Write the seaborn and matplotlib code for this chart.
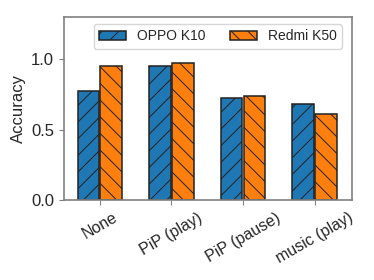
#!/usr/bin/env python3

import matplotlib
matplotlib.use('Agg')
import matplotlib.pyplot as plt
import pandas as pd
import seaborn as sns

categories = ['None', 'PiP (play)', 'PiP (pause)', 'music (play)']
devices = ['OPPO K10', 'Redmi K50']
oppo_acc = [0.775, 0.953, 0.723, 0.681]
redmi_acc = [0.953, 0.974, 0.740, 0.610]
yticks = [0.0, 0.5, 1.0]


def main():
    sns.set_style('ticks')
    plt.rcParams['font.family'] = ['Liberation Sans', 'DejaVu Sans']
    plt.rcParams['hatch.linewidth'] = 0.7

    data = pd.DataFrame({
        'scenario': categories * 2,
        'device': [devices[0]] * 4 + [devices[1]] * 4,
        'acc': oppo_acc + redmi_acc,
    })

    fig, ax = plt.subplots(figsize=(3.74, 2.8), dpi=100)
    sns.barplot(data=data, x='scenario', y='acc', hue='device',
                palette=['#1f77b4', '#ff7f0e'], saturation=1,
                width=0.64, gap=0.06,
                edgecolor='#222222', linewidth=1.1, ax=ax)

    hatches = ['//', '\\\\']
    for container, h in zip(ax.containers, hatches):
        for bar in container:
            bar.set_hatch(h)

    ax.set_ylim(0, 1.3)
    ax.set_xlim(-0.5, 3.52)
    ax.set_yticks(yticks)
    ax.set_yticklabels(['%.1f' % v for v in yticks], fontsize=12)
    ax.set_ylabel('Accuracy', fontsize=12)
    ax.set_xlabel('')
    ax.tick_params(axis='x', labelsize=11.5)
    for lab in ax.get_xticklabels():
        lab.set_rotation(30)
        lab.set_ha('center')

    for sp in ax.spines.values():
        sp.set_color('#808080')
        sp.set_linewidth(1.2)
    ax.tick_params(color='#808080')

    handles, labels = ax.get_legend_handles_labels()
    for hnd, h in zip(handles, hatches):
        hnd.set_hatch(h)
    ax.legend(handles, labels, ncol=2, fontsize=10, loc='upper right',
              bbox_to_anchor=(0.99, 1.0), frameon=True, handlelength=1.9,
              columnspacing=1.8, borderpad=0.4)

    fig.subplots_adjust(left=0.171, right=0.941, top=0.94, bottom=0.285)
    fig.savefig('out.png', dpi=100)


if __name__ == '__main__':
    main()
